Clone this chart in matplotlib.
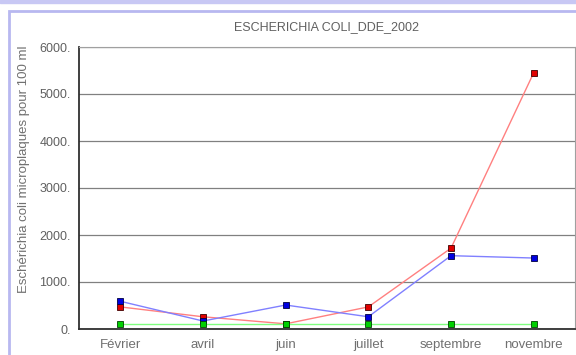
import matplotlib
matplotlib.use("Agg")
import matplotlib.pyplot as plt
from matplotlib.patches import Rectangle
from matplotlib.ticker import FuncFormatter

# values
months = ["Février", "avril", "juin", "juillet", "septembre", "novembre"]
red_vals = [470, 260, 110, 470, 1720, 5450]
blue_vals = [590, 170, 510, 260, 1560, 1510]
green_vals = [100, 100, 100, 100, 100, 100]
y_ticks = [0, 1000, 2000, 3000, 4000, 5000, 6000]

plt.rcParams['font.family'] = ['Liberation Sans', 'DejaVu Sans']

fig = plt.figure(figsize=(5.76, 3.55), dpi=100)
fig.patch.set_facecolor("white")
# outer frame
fig.patches.append(Rectangle((9 / 576, -0.01), 1.0, (355 - 11) / 355 + 0.01,
                             transform=fig.transFigure, fill=False,
                             edgecolor="#b8b8f0", linewidth=2.0))
fig.patches.append(Rectangle((0, (355 - 3) / 355), 1.0, 3 / 355,
                             transform=fig.transFigure, color="#c8c8f4"))

ax = fig.add_axes([79 / 576, 26 / 355, 496 / 576, 282 / 355])
x = range(len(months))

ax.plot(x, red_vals, color="#ff8080", linewidth=1, marker="s", markersize=5,
        markerfacecolor="#e00000", markeredgecolor="#400000", markeredgewidth=0.6)
ax.plot(x, blue_vals, color="#8080ff", linewidth=1, marker="s", markersize=5,
        markerfacecolor="#0000e0", markeredgecolor="#000040", markeredgewidth=0.6)
ax.plot(x, green_vals, color="#80ff80", linewidth=1, marker="s", markersize=5,
        markerfacecolor="#00d000", markeredgecolor="#004000", markeredgewidth=0.6)

ax.set_xlim(-0.5, len(months) - 0.5)
ax.set_ylim(0, 6000)
ax.set_yticks(y_ticks)
ax.yaxis.set_major_formatter(FuncFormatter(lambda v, p: "%d." % v))
ax.set_xticks(list(x))
ax.set_xticklabels(months)
ax.tick_params(axis="both", length=0, labelsize=9, colors="#606060", pad=6)
ax.tick_params(axis="x", labelsize=9.5, pad=7, colors="#707070")
ax.grid(axis="y", color="#808080", linewidth=0.9)
ax.set_axisbelow(True)

for side in ["left", "bottom"]:
    ax.spines[side].set_color("#303030")
    ax.spines[side].set_linewidth(1.3)
for side in ["top", "right"]:
    ax.spines[side].set_color("#a0a0a0")
    ax.spines[side].set_linewidth(0.8)

ax.set_title("ESCHERICHIA COLI_DDE_2002", fontsize=9, color="#606060", pad=12)
ax.set_ylabel("Eschérichia coli microplaques pour 100 ml", fontsize=9.5,
              color="#707070")
ax.yaxis.set_label_coords(-0.098, 0.565)

fig.savefig("out.png", dpi=100)
